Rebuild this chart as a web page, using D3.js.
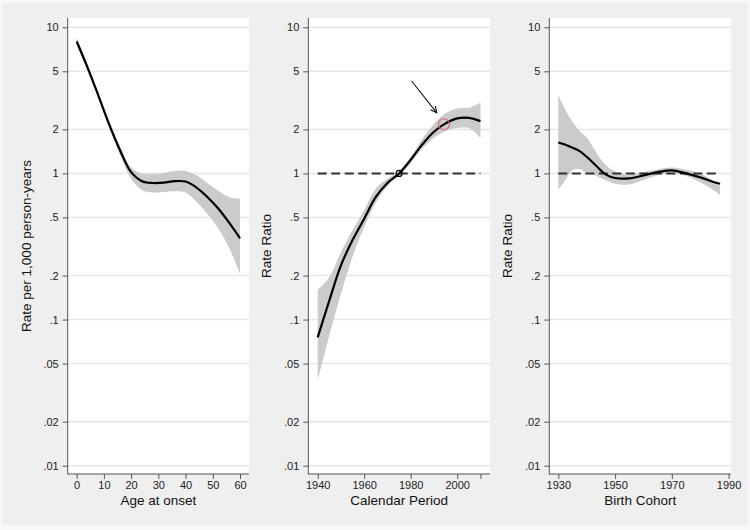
<!DOCTYPE html>
<html><head><meta charset="utf-8">
<script src="https://cdn.jsdelivr.net/npm/d3@7"></script>
<style>body{margin:0;background:#f8f8f8} svg{display:block}</style>
</head><body>
<svg id="c" width="750" height="530"></svg>
<script>
// ---- data ----
const yTicks = [10, 5, 2, 1, 0.5, 0.2, 0.1, 0.05, 0.02, 0.01];
const yTickLabels = ["10", "5", "2", "1", ".5", ".2", ".1", ".05", ".02", ".01"];

const ageTicks = [0, 10, 20, 30, 40, 50, 60];
const ageX    = [0, 4, 8, 12, 16, 20, 24, 28, 32, 36, 40, 44, 48, 52, 56, 60];
const ageRate = [8.0, 5.3, 3.4, 2.15, 1.43, 1.02, 0.885, 0.86, 0.865, 0.885, 0.88, 0.8, 0.69, 0.575, 0.46, 0.36];
const ageLo   = [7.6, 5.05, 3.25, 2.05, 1.33, 0.92, 0.77, 0.74, 0.745, 0.755, 0.74, 0.64, 0.53, 0.42, 0.31, 0.205];
const ageHi   = [8.5, 5.6, 3.55, 2.27, 1.53, 1.1, 1.0, 0.99, 1.01, 1.04, 1.04, 0.97, 0.86, 0.76, 0.69, 0.67];

const periodTicks = [1940, 1960, 1980, 2000, 2010];
const periodTickLabels = ["1940", "1960", "1980", "2000", ""];
const periodX  = [1940, 1945, 1950, 1955, 1960, 1965, 1970, 1975, 1980, 1985, 1990, 1995, 2000, 2005, 2010];
const periodRR = [0.0755, 0.135, 0.235, 0.35, 0.49, 0.69, 0.86, 1.0, 1.24, 1.58, 1.93, 2.2, 2.38, 2.4, 2.28];
const periodLo = [0.038, 0.078, 0.15, 0.27, 0.43, 0.63, 0.82, 0.97, 1.18, 1.48, 1.75, 1.95, 2.05, 2.05, 1.75];
const periodHi = [0.16, 0.195, 0.29, 0.41, 0.56, 0.79, 0.92, 1.03, 1.3, 1.72, 2.18, 2.58, 2.78, 2.82, 3.05];

const cohortTicks = [1930, 1950, 1970, 1990];
const cohortX  = [1930, 1932.5, 1935, 1937.5, 1940, 1943.5, 1946.5, 1950, 1955, 1960, 1965, 1970, 1975, 1980, 1985, 1987];
const cohortRR = [1.63, 1.57, 1.5, 1.42, 1.3, 1.12, 0.99, 0.93, 0.925, 0.97, 1.02, 1.05, 1.0, 0.94, 0.87, 0.85];
const cohortLo = [0.77, 0.9, 1.05, 1.07, 1.01, 0.96, 0.9, 0.85, 0.84, 0.9, 0.97, 1.0, 0.96, 0.87, 0.76, 0.71];
const cohortHi = [3.44, 2.72, 2.25, 1.95, 1.76, 1.38, 1.15, 1.03, 0.98, 1.02, 1.07, 1.1, 1.06, 1.0, 0.88, 0.82];

// annotation (data coordinates of the calendar-period panel)
const arrowFrom = [1980.4, 4.29];
const arrowTo   = [1991.2, 2.6];
const redMark   = [1994.3, 2.17];
const refMark   = [1975, 1.0];

// ---- layout ----
const svg = d3.select("#c");
const FONT = "'Liberation Sans', Arial, sans-serif";
const TOP = 18, BOTTOM = 474;
svg.append("rect").attr("x", 2).attr("y", 3).attr("width", 746).attr("height", 522).attr("fill", "#efefef");

const y = d3.scaleLog().domain([0.01, 10]).range([465.7, 27.3]);
const CURVE = d3.curveCatmullRom.alpha(0.5);

const panels = [
  {left: 67.7, right: 249, dom: [-3.3, 63.3], ticks: ageTicks, labels: ageTicks.map(String),
   xTitle: "Age at onset", yTitle: "Rate per 1,000 person-years", xs: ageX, mid: ageRate, lo: ageLo, hi: ageHi, ref: false},
  {left: 308.3, right: 490, dom: [1935.96, 2014.1], ticks: periodTicks, labels: periodTickLabels,
   xTitle: "Calendar Period", yTitle: "Rate Ratio", xs: periodX, mid: periodRR, lo: periodLo, hi: periodHi, ref: true},
  {left: 549.3, right: 731, dom: [1926.82, 1990.85], ticks: cohortTicks, labels: cohortTicks.map(String),
   xTitle: "Birth Cohort", yTitle: "Rate Ratio", xs: cohortX, mid: cohortRR, lo: cohortLo, hi: cohortHi, ref: true}
];

panels.forEach((p, i) => {
  const x = d3.scaleLinear().domain(p.dom).range([p.left, p.right]);
  p.x = x;
  const g = svg.append("g");
  g.append("rect").attr("x", p.left).attr("y", TOP).attr("width", p.right - p.left)
    .attr("height", BOTTOM - TOP).attr("fill", "#ffffff");
  // gridlines
  g.selectAll(".grid").data(yTicks).enter().append("line")
    .attr("x1", p.left).attr("x2", p.right).attr("y1", d => y(d)).attr("y2", d => y(d))
    .attr("stroke", "#e6e6e6").attr("stroke-width", 1.5);
  const data = p.xs.map((v, k) => ({x: v, m: p.mid[k], lo: p.lo[k], hi: p.hi[k]}));
  // band
  g.append("path").datum(data)
    .attr("d", d3.area().x(d => x(d.x)).y0(d => y(d.lo)).y1(d => y(d.hi)).curve(CURVE))
    .attr("fill", "#cbcbcb");
  // reference line
  if (p.ref) {
    g.append("line").attr("x1", x(p.xs[0])).attr("x2", x(p.xs[p.xs.length - 1]))
      .attr("y1", y(1)).attr("y2", y(1))
      .attr("stroke", "#333").attr("stroke-width", 2).attr("stroke-dasharray", "9,4.5");
  }
  // curve
  g.append("path").datum(data)
    .attr("d", d3.line().x(d => x(d.x)).y(d => y(d.m)).curve(CURVE))
    .attr("fill", "none").attr("stroke", "#000").attr("stroke-width", 2.2);

  // axes
  const ya = d3.axisLeft(y).tickValues(yTicks).tickFormat((d, k) => yTickLabels[k])
    .tickSize(5).tickPadding(4).tickSizeOuter(0);
  const yg = g.append("g").attr("transform", `translate(${p.left},0)`).call(ya);
  const xa = d3.axisBottom(x).tickValues(p.ticks).tickFormat((d, k) => p.labels[k])
    .tickSize(5).tickPadding(2).tickSizeOuter(0);
  const xg = g.append("g").attr("transform", `translate(0,${BOTTOM})`).call(xa);
  [yg, xg].forEach(a => {
    a.select(".domain").remove();
    a.selectAll(".tick line").attr("stroke", "#555");
    a.selectAll("text").attr("fill", "#222").style("font-family", FONT).style("font-size", "11px");
  });
  g.append("line").attr("x1", p.left).attr("x2", p.left).attr("y1", TOP).attr("y2", BOTTOM + 0.5)
    .attr("stroke", "#555").attr("stroke-width", 1);
  g.append("line").attr("x1", p.left).attr("x2", p.right).attr("y1", BOTTOM).attr("y2", BOTTOM)
    .attr("stroke", "#555").attr("stroke-width", 1);

  // titles
  g.append("text").attr("x", (p.left + p.right) / 2).attr("y", 505).attr("text-anchor", "middle")
    .style("font-family", FONT).style("font-size", "13.5px").attr("fill", "#111").text(p.xTitle);
  g.append("text").attr("transform", `translate(${p.left - 37},${(TOP + BOTTOM) / 2}) rotate(-90)`)
    .attr("text-anchor", "middle")
    .style("font-family", FONT).style("font-size", "13.5px").attr("fill", "#111").text(p.yTitle);
});

// annotations in calendar-period panel
const P = panels[1];
const ax1 = P.x(arrowFrom[0]), ay1 = y(arrowFrom[1]), ax2 = P.x(arrowTo[0]), ay2 = y(arrowTo[1]);
svg.append("line").attr("x1", ax1).attr("y1", ay1).attr("x2", ax2).attr("y2", ay2)
  .attr("stroke", "#111").attr("stroke-width", 1.1);
const ang = Math.atan2(ay2 - ay1, ax2 - ax1), hl = 7, ha = 0.45;
svg.append("path")
  .attr("d", `M${ax2 - hl * Math.cos(ang - ha)},${ay2 - hl * Math.sin(ang - ha)} L${ax2},${ay2} L${ax2 - hl * Math.cos(ang + ha)},${ay2 - hl * Math.sin(ang + ha)}`)
  .attr("fill", "none").attr("stroke", "#111").attr("stroke-width", 1.1);
svg.append("circle").attr("cx", P.x(redMark[0])).attr("cy", y(redMark[1])).attr("r", 5.5)
  .attr("fill", "none").attr("stroke", "#d9666a").attr("stroke-width", 1.1);
svg.append("circle").attr("cx", P.x(refMark[0])).attr("cy", y(refMark[1])).attr("r", 3)
  .attr("fill", "none").attr("stroke", "#000").attr("stroke-width", 1.2);
</script>
</body></html>
